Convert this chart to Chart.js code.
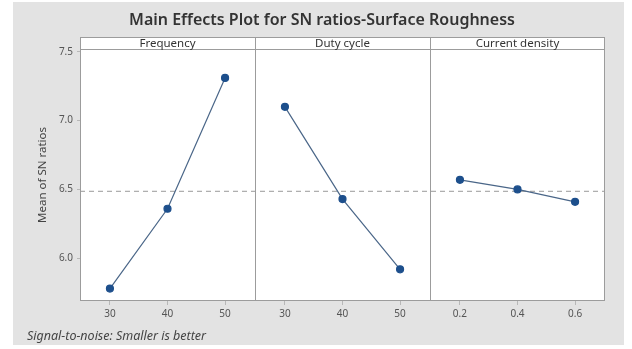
<!DOCTYPE html>
<html>
<head>
<meta charset="utf-8">
<script src="https://cdn.jsdelivr.net/npm/chart.js@4.4.1/dist/chart.umd.min.js"></script>
<style>
  html, body { margin: 0; padding: 0; background: #ffffff; }
  #wrap { width: 632px; height: 349px; }
</style>
</head>
<body>
<div id="wrap"><canvas id="chart" width="632" height="349"></canvas></div>
<script>
// Factor levels (x tick values) for each panel
const freqLevels = [30, 40, 50];
const dutyLevels = [30, 40, 50];
const currentLevels = [0.2, 0.4, 0.6];

// Panel headings
const panelTitles = ['Frequency', 'Duty cycle', 'Current density'];

// Mean of SN ratios at each level
const freqSN = [5.78, 6.36, 7.31];
const dutySN = [7.10, 6.43, 5.92];
const currentSN = [6.57, 6.50, 6.41];

// Y tick values
const yTicks = [6.0, 6.5, 7.0, 7.5];

const chartTitle = 'Main Effects Plot for SN ratios-Surface Roughness';
const footNote = 'Signal-to-noise: Smaller is better';
const yTitle = 'Mean of SN ratios';

const FONT = '"Noto Sans", "Open Sans", sans-serif';
const STRIP_H = 12;

const allSN = freqSN.concat(dutySN, currentSN);
const grandMean = allSN.reduce((s, v) => s + v, 0) / allSN.length;

const toPoints = (xs, ys) => xs.map((x, i) => ({ x, y: ys[i] }));

const lineStyle = {
  borderColor: '#4a6688',
  borderWidth: 1.2,
  pointBackgroundColor: '#1d4f8c',
  pointBorderColor: '#1d4f8c',
  pointRadius: 3.5,
  pointHoverRadius: 3.5,
  tension: 0,
  fill: false
};

function xScale(levels, min, max, decimals) {
  return {
    type: 'linear',
    position: 'bottom',
    stack: 'panels',
    stackWeight: 1,
    min, max,
    afterBuildTicks: s => { s.ticks = levels.map(v => ({ value: v })); },
    afterFit: s => { s.height = 22; },
    grid: { display: true, drawOnChartArea: false, tickLength: 4, color: '#b8b8b8' },
    border: { display: false },
    ticks: {
      padding: 3,
      color: '#555555',
      font: { family: FONT, size: 10 },
      maxRotation: 0,
      autoSkip: false,
      callback: v => Number(v).toFixed(decimals)
    }
  };
}

const panelDecor = {
  id: 'panelDecor',
  beforeDraw(chart) {
    const { ctx, chartArea: a } = chart;
    ctx.save();
    ctx.fillStyle = '#ffffff';
    ctx.fillRect(0, 0, chart.width, chart.height);
    ctx.fillStyle = '#e3e3e3';
    ctx.fillRect(13, 2, 611, 343);
    ctx.fillStyle = '#ffffff';
    ctx.fillRect(a.left, a.top - STRIP_H, a.right - a.left, a.bottom - a.top + STRIP_H);
    ctx.restore();
  },
  beforeDatasetsDraw(chart) {
    const { ctx, chartArea: a, scales } = chart;
    const panels = [scales.x1, scales.x2, scales.x3];
    ctx.save();
    // grand mean reference line
    const ym = scales.y.getPixelForValue(grandMean);
    ctx.strokeStyle = '#999999';
    ctx.lineWidth = 1;
    ctx.setLineDash([5, 4]);
    ctx.beginPath();
    ctx.moveTo(a.left, ym);
    ctx.lineTo(a.right, ym);
    ctx.stroke();
    ctx.setLineDash([]);
    // panel frames and header strip
    ctx.strokeStyle = '#9c9c9c';
    ctx.lineWidth = 1;
    const top = a.top - STRIP_H;
    ctx.strokeRect(a.left + 0.5, top + 0.5, a.right - a.left - 1, a.bottom - top - 1);
    ctx.beginPath();
    ctx.moveTo(a.left, a.top + 0.5);
    ctx.lineTo(a.right, a.top + 0.5);
    panels.slice(1).forEach(s => {
      const x = Math.round(s.left) + 0.5;
      ctx.moveTo(x, top);
      ctx.lineTo(x, a.bottom);
    });
    ctx.stroke();
    // strip labels
    ctx.fillStyle = '#333333';
    ctx.font = '11.5px ' + FONT;
    ctx.textAlign = 'center';
    ctx.textBaseline = 'middle';
    panels.forEach((s, i) => {
      ctx.fillText(panelTitles[i], (s.left + s.right) / 2, top + STRIP_H / 2 + 0.5);
    });
    ctx.restore();
  },
  afterDraw(chart) {
    const { ctx } = chart;
    ctx.save();
    ctx.fillStyle = '#333333';
    ctx.font = '600 16px ' + FONT;
    ctx.textAlign = 'center';
    ctx.textBaseline = 'alphabetic';
    ctx.fillText(chartTitle, 322, 25);
    ctx.fillStyle = '#444444';
    ctx.font = 'italic 12.5px ' + FONT;
    ctx.textAlign = 'left';
    ctx.textBaseline = 'middle';
    ctx.fillText(footNote, 27, 336);
    ctx.restore();
  }
};

new Chart(document.getElementById('chart'), {
  type: 'line',
  data: {
    datasets: [
      Object.assign({ label: panelTitles[0], xAxisID: 'x1', data: toPoints(freqLevels, freqSN) }, lineStyle),
      Object.assign({ label: panelTitles[1], xAxisID: 'x2', data: toPoints(dutyLevels, dutySN) }, lineStyle),
      Object.assign({ label: panelTitles[2], xAxisID: 'x3', data: toPoints(currentLevels, currentSN) }, lineStyle)
    ]
  },
  options: {
    responsive: false,
    animation: false,
    events: [],
    layout: { padding: { left: 13, right: 27, top: 49, bottom: 26 } },
    plugins: { legend: { display: false }, tooltip: { enabled: false }, title: { display: false } },
    scales: {
      x1: xScale(freqLevels, 24.8, 55.2, 0),
      x2: xScale(dutyLevels, 24.8, 55.2, 0),
      x3: xScale(currentLevels, 0.096, 0.704, 1),
      y: {
        type: 'linear',
        position: 'left',
        min: 5.69,
        max: 7.52,
        afterBuildTicks: s => { s.ticks = yTicks.map(v => ({ value: v })); },
        afterFit: s => { s.width = 67; },
        grid: { display: true, drawOnChartArea: false, tickLength: 3, color: '#b8b8b8' },
        border: { display: false },
        ticks: {
          padding: 4,
          color: '#555555',
          font: { family: FONT, size: 10 },
          callback: v => Number(v).toFixed(1)
        },
        title: {
          display: true,
          text: yTitle,
          color: '#444444',
          font: { family: FONT, size: 11.5 },
          padding: { top: 23, bottom: 0 }
        }
      }
    }
  },
  plugins: [panelDecor]
});
</script>
</body>
</html>
